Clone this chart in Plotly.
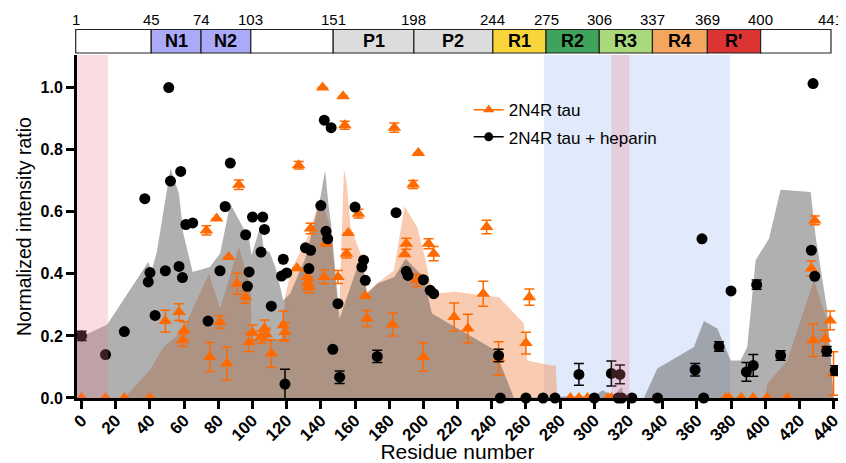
import plotly.graph_objects as go

# ---------------- data ----------------
# 2N4R tau + heparin (black circles)
hep_x = [0, 14, 25, 37, 39, 40, 43, 49, 51, 52, 57, 58, 59, 61, 65, 74, 81, 84, 87,
         96, 97, 98, 100, 105, 106, 107, 111, 117, 118, 119, 120,
         131, 133, 134, 140, 142, 143, 144, 146, 147, 150, 151, 160, 164, 165, 166,
         173, 184, 190, 191, 200, 204, 206, 244, 245, 260, 270, 277,
         291, 300, 310, 315, 314, 316, 322, 337, 359, 363, 364, 373, 380,
         389, 393, 395, 409, 427, 428, 429, 436, 441]
hep_y = [0.200, 0.140, 0.214, 0.642, 0.374, 0.404, 0.266, 0.410, 1.000, 0.699, 0.424, 0.730,
         0.388, 0.559, 0.564, 0.248, 0.410, 0.617, 0.757,
         0.526, 0.360, 0.406, 0.583, 0.470, 0.583, 0.543, 0.296, 0.393, 0.447, 0.045, 0.403,
         0.484, 0.417, 0.476, 0.620, 0.895, 0.537, 0.513, 0.871, 0.157, 0.304, 0.067, 0.615,
         0.422, 0.444, 0.379,
         0.134, 0.597, 0.408, 0.395, 0.381, 0.347, 0.336, 0.137, 0.0, 0.0, 0.0, 0.0,
         0.076, 0.0, 0.079, 0.076, 0.0, 0.0, 0.0, 0.0, 0.091, 0.513, 0.0, 0.166, 0.345,
         0.084, 0.105, 0.365, 0.137, 0.476, 1.013, 0.392, 0.151, 0.089]
hep_err = [0.015, 0, 0, 0, 0, 0, 0, 0, 0, 0, 0, 0, 0, 0, 0, 0, 0, 0, 0,
           0, 0, 0, 0, 0, 0, 0, 0, 0, 0, 0.048, 0,
           0, 0, 0, 0, 0, 0, 0, 0, 0, 0, 0.02, 0, 0, 0, 0,
           0.02, 0, 0, 0, 0, 0, 0, 0.02, 0, 0, 0, 0,
           0.035, 0, 0.04, 0.03, 0, 0, 0, 0, 0.02, 0, 0, 0.015, 0,
           0.03, 0.035, 0.015, 0.015, 0, 0, 0, 0.015, 0.015]

# 2N4R tau (orange triangles)
tau_x = [0, 14, 25, 40, 49, 57, 60, 59, 73, 75, 79, 81, 85, 86,
         92, 91, 96, 98, 100, 105, 107, 108, 111, 118, 119,
         126, 127, 132, 132.5, 133, 134, 141, 142, 143, 150, 153, 154, 155, 156, 162,
         166, 167, 182, 183, 189, 190, 194, 196, 197, 200, 203, 206, 218, 226, 235,
         237, 244, 260, 262,
         277, 286, 291, 296, 308, 310, 377, 379, 386, 393, 401, 413,
         427, 428, 429, 435, 438, 440]
tau_y = [0, 0, 0, 0, 0.248, 0.277, 0.218, 0.186, 0.540, 0.132, 0.578, 0.245, 0.111, 0.454,
         0.687, 0.368, 0.325, 0.180, 0.210, 0.197, 0.224, 0.205, 0.143, 0.234, 0.213,
         0.418, 0.750, 0.390, 0.368, 0.358, 0.546, 1.000, 0.390, 0.497, 0.390, 0.972,
         0.879, 0.465, 0.532, 0.594,
         0.329, 0.256, 0.237, 0.871, 0.463, 0.497, 0.688, 0.379, 0.789, 0.132, 0.497,
         0.465, 0.261, 0.224, 0.336,
         0.551, 0.127, 0.177, 0.325,
         0, 0, 0, 0, 0, 0, 0, 0, 0, 0, 0, 0,
         0.417, 0.186, 0.572, 0.191, 0.250, 0.079]
tau_err = [0, 0, 0, 0, 0.035, 0.027, 0.028, 0.02, 0.015, 0.047, 0, 0.02, 0.053, 0,
           0.015, 0.034, 0.02, 0.03, 0.025, 0.02, 0.027, 0.02, 0.045, 0.046, 0.03,
           0, 0.012, 0.02, 0.02, 0.02, 0.017, 0, 0.022, 0, 0.021, 0, 0.013, 0.014, 0, 0.014,
           0, 0.026, 0.037, 0.015, 0, 0.018, 0.013, 0.02, 0, 0.046, 0.016, 0.023, 0.045,
           0.046, 0.04,
           0.022, 0.054, 0.035, 0.026,
           0, 0, 0, 0, 0, 0, 0, 0, 0, 0, 0, 0,
           0.024, 0.052, 0.014, 0.028, 0.03, 0.07]

# shaded envelopes
tau_area_x = [25, 40, 48, 59, 74.5, 81, 92, 98.9, 99.5, 117.5, 119, 123, 131, 139.8,
              145.7, 150.6, 153.5, 155, 157.4, 163.2, 166.8, 173, 182.7, 189, 196.4,
              201.3, 205.2, 217.9, 244.2, 258.8, 260.8, 274.4, 277.4, 278.3,
              400.2, 401.2, 412.9, 428.5, 436.3, 440]
tau_area_y = [0, 0.09, 0.164, 0.215, 0.40, 0.288, 0.487, 0.358, 0.19, 0.186, 0.325, 0.42,
              0.50, 0.645, 0.55, 0.25, 0.736, 0.70, 0.551, 0.465, 0.34, 0.37, 0.411, 0.618,
              0.551, 0.444, 0.336, 0.342, 0.325, 0.24, 0.121, 0.105, 0.105, 0,
              0, 0.046, 0.121, 0.379, 0.25, 0]

hep_area_x = [-3, 15, 39, 41, 44, 52, 57, 59.5, 65, 75, 81, 87, 98, 99.5, 104.7, 106.7,
              110, 113.5, 118, 122, 131, 139.8, 142.5, 144.5, 146, 151, 164, 167, 173,
              183, 189.6, 200, 205, 242, 253, 278, 290, 300, 305, 311, 316, 317.5, 329,
              336.9, 358.3, 364.1, 372, 379.8, 385.6, 389.5, 394.4, 402.2, 409, 426.6,
              429.5, 436.3, 440.2]
hep_area_y = [0.19, 0.237, 0.438, 0.41, 0.47, 0.739, 0.658, 0.53, 0.406, 0.422, 0.465, 0.626,
              0.513, 0.46, 0.556, 0.476, 0.47, 0.42, 0.315, 0.336, 0.45, 0.648, 0.734, 0.62,
              0.56, 0.256, 0.465, 0.336, 0.368, 0.39, 0.449, 0.39, 0.272, 0.154, 0, 0.005,
              0.005, 0.007, 0.025, 0.006, 0.035, 0, 0,
              0.095, 0.164, 0.248, 0.224, 0.121, 0.121, 0.164, 0.444, 0.513, 0.671, 0.664,
              0.52, 0.283, 0]

# domain map
domain_bounds = [1, 45, 74, 103, 151, 198, 244, 275, 306, 337, 369, 400, 441]
domain_names = ["", "N1", "N2", "", "P1", "P2", "R1", "R2", "R3", "R4", "R'", ""]
domain_colors = ["#FFFFFF", "#AAAAF8", "#AAAAF8", "#FFFFFF", "#DCDCDC", "#DCDCDC",
                 "#F8D53A", "#3FA35C", "#AAD97C", "#F5A65E", "#DC3333", "#FFFFFF"]

x_ticks = list(range(0, 441, 20))
y_ticks = [0.0, 0.2, 0.4, 0.6, 0.8, 1.0]

blue_region = [270.5, 379.5]
pink_regions = [[-3, 15.5], [310, 320.5]]

ORANGE = "#FF6A00"
FONT = "Liberation Sans, Arial, sans-serif"

fig = go.Figure()

fig.add_trace(go.Scatter(x=tau_area_x, y=tau_area_y, mode="lines", fill="tozeroy",
                         line=dict(width=0), fillcolor="rgba(242,140,80,0.45)",
                         showlegend=False, hoverinfo="skip"))
fig.add_trace(go.Scatter(x=hep_area_x, y=hep_area_y, mode="lines", fill="tozeroy",
                         line=dict(width=0), fillcolor="rgba(80,80,80,0.45)",
                         showlegend=False, hoverinfo="skip"))

fig.add_trace(go.Scatter(x=tau_x, y=tau_y, mode="markers", cliponaxis=False,
                         marker=dict(symbol="triangle-up", size=12, color=ORANGE),
                         error_y=dict(type="data", array=tau_err, color=ORANGE,
                                      thickness=1.5, width=5),
                         showlegend=False))
fig.add_trace(go.Scatter(x=hep_x, y=hep_y, mode="markers", cliponaxis=False,
                         marker=dict(symbol="circle", size=11, color="black"),
                         error_y=dict(type="data", array=hep_err, color="black",
                                      thickness=1.5, width=5),
                         showlegend=False))

# legend entries
fig.add_trace(go.Scatter(x=[None], y=[None], mode="lines+markers", name="2N4R tau",
                         legendgroup="a",
                         line=dict(color=ORANGE, width=1.5),
                         marker=dict(symbol="triangle-up", size=10, color=ORANGE)))
fig.add_trace(go.Scatter(x=[None], y=[None], mode="lines+markers",
                         name="2N4R tau + heparin", legendgroup="b",
                         line=dict(color="black", width=1.5),
                         marker=dict(symbol="circle", size=9, color="black")))

shapes = []
shapes.append(dict(type="rect", xref="x", yref="y", x0=blue_region[0], x1=blue_region[1],
                   y0=0, y1=1.2, fillcolor="#E1EAFA", line=dict(width=0), layer="below"))
for p in pink_regions:
    shapes.append(dict(type="rect", xref="x", yref="y", x0=p[0], x1=p[1], y0=0, y1=1.2,
                       fillcolor="rgba(240,120,135,0.25)", line=dict(width=0),
                       layer="above"))

annotations = []
for i in range(len(domain_names)):
    a, b = domain_bounds[i], domain_bounds[i + 1]
    shapes.append(dict(type="rect", xref="x2", yref="y2", x0=a, x1=b, y0=0, y1=1,
                       fillcolor=domain_colors[i], line=dict(color="#222222", width=1.2)))
    if domain_names[i]:
        annotations.append(dict(x=(a + b) / 2, y=0.5, xref="x2", yref="y2",
                                text="<b>%s</b>" % domain_names[i], showarrow=False,
                                font=dict(family=FONT, size=18, color="black")))
for bnd in domain_bounds:
    annotations.append(dict(x=bnd, y=1, xref="x2", yref="y2", yanchor="bottom",
                            yshift=-1, text=str(bnd), showarrow=False,
                            font=dict(family=FONT, size=15, color="black")))

# page body has an 8 px margin: figure is 838 x 455
fig.update_layout(
    width=838, height=455,
    margin=dict(l=67, r=8, t=18, b=65, autoexpand=False),
    paper_bgcolor="white", plot_bgcolor="white",
    shapes=shapes, annotations=annotations,
    font=dict(family=FONT, color="black"),
    showlegend=True,
    legend=dict(x=0.516, y=0.822, xanchor="left", yanchor="top",
                bgcolor="rgba(0,0,0,0)", font=dict(family=FONT, size=17),
                traceorder="grouped", tracegroupgap=2),
    xaxis=dict(domain=[0.0026, 1], range=[-2.7, 442.6], tickvals=x_ticks,
               ticks="outside", ticklen=8, tickwidth=2.5, tickcolor="black",
               showline=True, linewidth=3, linecolor="black", showgrid=False,
               zeroline=False, tickangle=-45, automargin=False,
               ticklabelstandoff=-5,
               tickfont=dict(family=FONT, size=17, color="black", weight="bold"),
               title=dict(text="Residue number", font=dict(family=FONT, size=21),
                          standoff=4),
               anchor="y"),
    yaxis=dict(domain=[0, 0.922], range=[0, 1.105], tickvals=y_ticks, tickformat=".1f",
               ticks="outside", ticklen=8, tickwidth=2.5, tickcolor="black",
               showline=True, linewidth=3, linecolor="black", showgrid=False,
               zeroline=False, automargin=False,
               tickfont=dict(family=FONT, size=16, color="black", weight="bold"),
               title=dict(text="Normalized intensity ratio", font=dict(family=FONT, size=19.5),
                          standoff=4),
               anchor="x"),
    xaxis2=dict(domain=[0, 0.9925], range=[0.592, 441.757], anchor="y2",
                showticklabels=False, ticks="", showline=False, showgrid=False,
                zeroline=False, automargin=False),
    yaxis2=dict(domain=[0.9242, 0.9938], range=[-0.05, 1.05], anchor="x2",
                automargin=False,
                showticklabels=False, showgrid=False, zeroline=False, showline=False),
)

fig.write_html("out.html")
